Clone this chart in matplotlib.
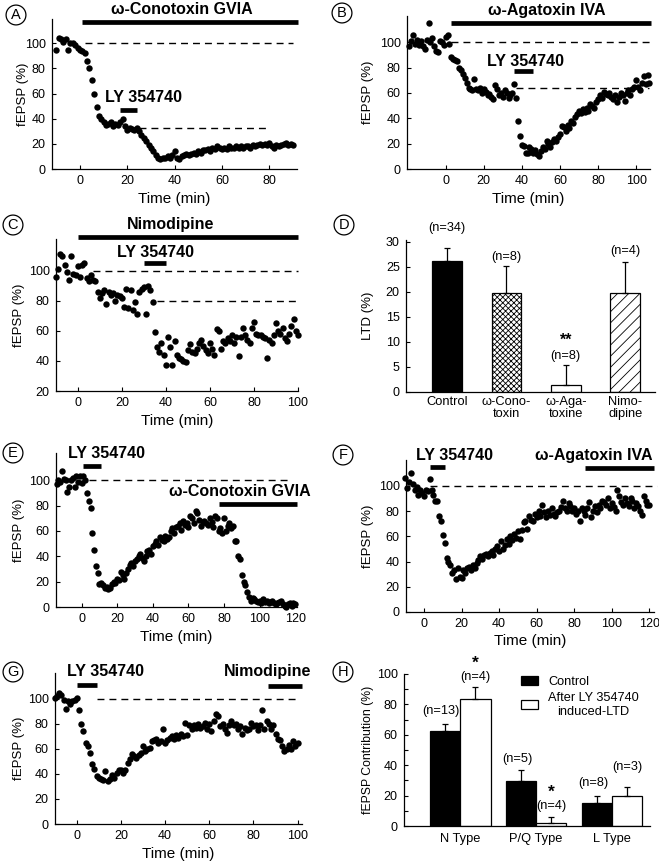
import numpy as np
import matplotlib.pyplot as plt
from matplotlib.patches import Patch

plt.rcParams['font.family'] = ['Liberation Sans', 'DejaVu Sans']
plt.rcParams['hatch.linewidth'] = 0.6

# ---- panel A: omega-Conotoxin GVIA, then LY 354740 ----
a_t = [-10, -9, -8, -7, -6, -5, -4, -3, -2, -1,
       0, 1, 2, 3, 4, 5, 6, 7, 8, 9,
       10, 11, 12, 13, 14, 15, 16, 17, 18, 19,
       20, 21, 22, 23, 24, 25, 26, 27, 28, 29,
       30, 31, 32, 33, 34, 35, 36, 37, 38, 39,
       40, 41, 42, 43, 44, 45, 46, 47, 48, 49,
       50, 51, 52, 53, 54, 55, 56, 57, 58, 59,
       60, 61, 62, 63, 64, 65, 66, 67, 68, 69,
       70, 71, 72, 73, 74, 75, 76, 77, 78, 79,
       80, 81, 82, 83, 84, 85, 86, 87, 88, 89, 90]
a_y = [95, 104, 103, 101, 103, 95, 100, 100, 99, 96,
       95, 94, 92, 86, 80, 71, 60, 49, 42, 40,
       37, 35, 36, 37, 34, 36, 35, 37, 40, 34,
       31, 33, 32, 31, 33, 30, 27, 25, 22, 19,
       17, 14, 11, 9, 8, 9, 9, 10, 9, 11,
       14, 9, 8, 10, 11, 12, 11, 12, 13, 12,
       14, 13, 15, 15, 16, 14, 17, 16, 18, 17,
       16, 17, 16, 18, 17, 17, 18, 17, 18, 17,
       18, 18, 17, 19, 18, 19, 20, 19, 20, 19,
       21, 18, 17, 19, 18, 19, 20, 21, 19, 20, 19]

# ---- panel B: omega-Agatoxin IVA, then LY 354740 ----
b_t = [-19, -18, -17, -16, -15, -14, -13, -12, -11, -10,
       -9, -8, -7, -6, -5, -4, -3, -2, -1, 0,
       1, 2, 3, 4, 5, 6, 7, 8, 9, 10,
       11, 12, 13, 14, 15, 16, 17, 18, 19, 20,
       21, 22, 23, 24, 25, 26, 27, 28, 29, 30,
       31, 32, 33, 34, 35, 36, 37, 38, 39, 40,
       41, 42, 43, 44, 45, 46, 47, 48, 49, 50,
       51, 52, 53, 54, 55, 56, 57, 58, 59, 60,
       61, 62, 63, 64, 65, 66, 67, 68, 69, 70,
       71, 72, 73, 74, 75, 76, 77, 78, 79, 80,
       81, 82, 83, 84, 85, 86, 87, 88, 89, 90,
       91, 92, 93, 94, 95, 96, 97, 98, 99, 100,
       101, 102, 103, 104, 105, 106, 107]
b_y = [97, 101, 106, 99, 102, 98, 101, 97, 95, 102,
       115, 100, 103, 97, 93, 92, 101, 100, 98, 104,
       106, 99, 88, 87, 86, 85, 80, 78, 75, 72,
       68, 64, 63, 62, 71, 63, 62, 64, 60, 63,
       61, 58, 59, 57, 55, 66, 63, 58, 60, 57,
       62, 60, 56, 58, 60, 67, 56, 38, 26, 19,
       18, 13, 13, 17, 16, 13, 15, 12, 10, 14,
       17, 16, 22, 20, 17, 21, 24, 22, 25, 28,
       34, 33, 30, 35, 32, 38, 36, 41, 43, 46,
       44, 47, 45, 48, 46, 51, 50, 48, 53, 55,
       58, 56, 61, 59, 58, 60, 57, 55, 58, 53,
       57, 60, 58, 54, 60, 62, 58, 63, 65, 70,
       65, 62, 68, 73, 67, 74, 68]

# ---- panel C: Nimodipine, then LY 354740 ----
c_t = [-10, -9, -8, -7, -6, -5, -4, -3, -2, -1,
       0, 1, 2, 3, 4, 5, 6, 7, 8, 9,
       10, 11, 12, 13, 14, 15, 16, 17, 18, 19,
       20, 21, 22, 23, 24, 25, 26, 27, 28, 29,
       30, 31, 32, 33, 34, 35, 36, 37, 38, 39,
       40, 41, 42, 43, 44, 45, 46, 47, 48, 49,
       50, 51, 52, 53, 54, 55, 56, 57, 58, 59,
       60, 61, 62, 63, 64, 65, 66, 67, 68, 69,
       70, 71, 72, 73, 74, 75, 76, 77, 78, 79,
       80, 81, 82, 83, 84, 85, 86, 87, 88, 89,
       90, 91, 92, 93, 94, 95, 96, 97, 98, 99, 100]
c_y = [96, 101, 111, 110, 104, 99, 94, 110, 98, 97,
       103, 96, 104, 105, 95, 93, 97, 94, 93, 86,
       82, 85, 87, 78, 86, 84, 85, 80, 84, 83,
       82, 76, 88, 75, 87, 74, 79, 71, 86, 88,
       89, 71, 90, 87, 79, 59, 49, 46, 52, 44,
       37, 56, 49, 37, 53, 44, 42, 41, 40, 39,
       47, 51, 46, 45, 48, 52, 54, 50, 47, 45,
       52, 48, 44, 61, 60, 48, 53, 52, 55, 53,
       57, 52, 56, 43, 56, 62, 57, 54, 52, 62,
       66, 58, 57, 57, 56, 55, 42, 54, 52, 57,
       65, 60, 58, 62, 55, 53, 58, 63, 68, 60, 57]

# ---- panel D: LTD summary ----
d_labels = ['Control', 'ω-Cono-\ntoxin', 'ω-Aga-\ntoxine', 'Nimo-\ndipine']
d_ltd = [26.2, 19.7, 1.4, 19.8]
d_err = [2.5, 5.5, 4.0, 6.2]
d_n = ['(n=34)', '(n=8)', '(n=8)', '(n=4)']
d_sig = ['', '', '**', '']

# ---- panel E: LY 354740, then omega-Conotoxin GVIA ----
e_t = [-14, -13, -12, -11, -10, -9, -8, -7, -6, -5,
       -4, -3, -2, -1, 0, 1, 2, 3, 4, 5,
       6, 7, 8, 9, 10, 11, 12, 13, 14, 15,
       16, 17, 18, 19, 20, 21, 22, 23, 24, 25,
       26, 27, 28, 29, 30, 31, 32, 33, 34, 35,
       36, 37, 38, 39, 40, 41, 42, 43, 44, 45,
       46, 47, 48, 49, 50, 51, 52, 53, 54, 55,
       56, 57, 58, 59, 60, 61, 62, 63, 64, 65,
       66, 67, 68, 69, 70, 71, 72, 73, 74, 75,
       76, 77, 78, 79, 80, 81, 82, 83, 84, 85,
       86, 87, 88, 89, 90, 91, 92, 93, 94, 95,
       96, 97, 98, 99, 100, 101, 102, 103, 104, 105,
       106, 107, 108, 109, 110, 111, 112, 113, 114, 115,
       116, 117, 118, 119, 120]
e_y = [97, 100, 99, 107, 101, 100, 91, 95, 100, 102,
       95, 103, 99, 103, 98, 103, 100, 90, 84, 78,
       58, 45, 32, 27, 18, 19, 17, 15, 16, 14,
       15, 18, 20, 19, 22, 21, 28, 25, 22, 27,
       30, 33, 35, 32, 36, 38, 40, 42, 39, 36,
       40, 44, 45, 42, 48, 50, 52, 49, 55, 53,
       52, 56, 54, 55, 60, 62, 58, 63, 64, 66,
       61, 68, 65, 66, 63, 72, 70, 66, 76, 74,
       69, 64, 67, 68, 66, 65, 70, 67, 63, 72,
       70, 60, 62, 58, 70, 60, 64, 66, 62, 64,
       52, 52, 40, 38, 25, 20, 17, 12, 8, 5,
       7, 6, 5, 4, 5, 3, 6, 4, 5, 3,
       4, 5, 3, 2, 3, 4, 5, 2, 1, 0,
       2, 3, 1, 3, 2]

# ---- panel F: LY 354740, then omega-Agatoxin IVA ----
f_t = [-10, -9, -8, -7, -6, -5, -4, -3, -2, -1,
       0, 1, 2, 3, 4, 5, 6, 7, 8, 9,
       10, 11, 12, 13, 14, 15, 16, 17, 18, 19,
       20, 21, 22, 23, 24, 25, 26, 27, 28, 29,
       30, 31, 32, 33, 34, 35, 36, 37, 38, 39,
       40, 41, 42, 43, 44, 45, 46, 47, 48, 49,
       50, 51, 52, 53, 54, 55, 56, 57, 58, 59,
       60, 61, 62, 63, 64, 65, 66, 67, 68, 69,
       70, 71, 72, 73, 74, 75, 76, 77, 78, 79,
       80, 81, 82, 83, 84, 85, 86, 87, 88, 89,
       90, 91, 92, 93, 94, 95, 96, 97, 98, 99,
       100, 101, 102, 103, 104, 105, 106, 107, 108, 109,
       110, 111, 112, 113, 114, 115, 116, 117, 118, 119, 120]
f_y = [106, 98, 103, 110, 101, 97, 99, 93, 97, 94,
       92, 97, 96, 105, 97, 93, 88, 88, 76, 72,
       61, 55, 43, 40, 37, 31, 33, 26, 35, 28,
       27, 33, 31, 35, 36, 33, 37, 35, 39, 41,
       44, 42, 45, 46, 44, 47, 48, 45, 50, 52,
       48, 56, 50, 53, 58, 54, 60, 57, 62, 59,
       64, 58, 65, 71, 72, 66, 76, 73, 72, 78,
       75, 80, 76, 85, 79, 75, 80, 77, 82, 78,
       76, 79, 80, 83, 88, 82, 80, 86, 84, 80,
       82, 78, 80, 72, 82, 80, 77, 82, 87, 75,
       80, 84, 79, 85, 82, 88, 87, 85, 90, 82,
       86, 83, 80, 97, 92, 87, 85, 90, 86, 84,
       90, 88, 82, 86, 84, 80, 77, 92, 88, 85, 85]

# ---- panel G: LY 354740, then Nimodipine ----
g_t = [-10, -9, -8, -7, -6, -5, -4, -3, -2, -1,
       0, 1, 2, 3, 4, 5, 6, 7, 8, 9,
       10, 11, 12, 13, 14, 15, 16, 17, 18, 19,
       20, 21, 22, 23, 24, 25, 26, 27, 28, 29,
       30, 31, 32, 33, 34, 35, 36, 37, 38, 39,
       40, 41, 42, 43, 44, 45, 46, 47, 48, 49,
       50, 51, 52, 53, 54, 55, 56, 57, 58, 59,
       60, 61, 62, 63, 64, 65, 66, 67, 68, 69,
       70, 71, 72, 73, 74, 75, 76, 77, 78, 79,
       80, 81, 82, 83, 84, 85, 86, 87, 88, 89,
       90, 91, 92, 93, 94, 95, 96, 97, 98, 99, 100]
g_y = [101, 102, 105, 103, 99, 92, 98, 96, 98, 99,
       101, 91, 80, 74, 65, 62, 57, 48, 44, 38,
       37, 36, 35, 42, 34, 36, 39, 37, 41, 43,
       43, 41, 43, 49, 52, 56, 54, 53, 55, 57,
       62, 58, 60, 61, 66, 67, 68, 65, 66, 76,
       65, 67, 69, 70, 68, 71, 69, 72, 70, 81,
       71, 79, 76, 79, 77, 80, 77, 78, 81, 76,
       80, 74, 82, 88, 86, 78, 80, 76, 73, 79,
       82, 79, 80, 76, 78, 72, 77, 75, 76, 81,
       78, 79, 75, 79, 91, 76, 82, 80, 76, 79,
       72, 68, 67, 62, 58, 60, 63, 60, 66, 62, 65]

# ---- panel H: channel contributions ----
h_groups = ['N Type', 'P/Q Type', 'L Type']
h_ctrl = [62.6, 29.3, 15.2]
h_ctrl_err = [4.4, 7.4, 4.6]
h_ltd = [83.5, 2.0, 19.8]
h_ltd_err = [8.1, 4.0, 5.9]
h_n_ctrl = ['(n=13)', '(n=5)', '(n=8)']
h_n_ltd = ['(n=4)', '(n=4)', '(n=3)']
h_sig_ltd = ['*', '*', '']

# drug application periods: (label, start, end) in min
a_drugs = [('ω-Conotoxin GVIA', 1, 92), ('LY 354740', 17, 24)]
b_drugs = [('ω-Agatoxin IVA', 3, 108), ('LY 354740', 36, 46)]
c_drugs = [('Nimodipine', 0, 100), ('LY 354740', 30, 40)]
e_drugs = [('LY 354740', 1, 11), ('ω-Conotoxin GVIA', 77, 121)]
f_drugs = [('LY 354740', 3, 11), ('ω-Agatoxin IVA', 86, 122.5)]
g_drugs = [('LY 354740', 0, 9), ('Nimodipine', 86.5, 102)]

# dashed reference levels: (start, end, level)
a_refs = [(2, 90, 100), (25, 80, 33)]
b_refs = [(3, 108, 100), (37, 107, 64)]
c_refs = [(7, 100, 100), (36, 100, 80)]
e_refs = [(4, 116, 100)]
f_refs = [(3, 124, 100)]
g_refs = [(9, 100, 100)]

W, H = 659, 863
fig = plt.figure(figsize=(W / 100, H / 100), dpi=100)

TICK = 9
YLAB = 9.5
XLAB = 11
NLAB = 9.2
CAT = 9.3


def px_axes(left, top, right, bottom):
    return fig.add_axes([left / W, 1 - bottom / H, (right - left) / W, (bottom - top) / H])


def style(ax, ylab_x, box):
    for s in ['top', 'right']:
        ax.spines[s].set_visible(False)
    for s in ['left', 'bottom']:
        ax.spines[s].set_linewidth(0.9)
    ax.tick_params(direction='in', length=3, width=0.8, labelsize=TICK, pad=4.5)
    # label anchor is its right edge, so shift by half the text height
    ax.yaxis.set_label_coords((ylab_x + 6 - box[0]) / (box[2] - box[0]), 0.5)


def circle_label(letter, x, y):
    fig.text(x / W, 1 - y / H, letter, ha='center', va='center', fontsize=10.5,
             bbox=dict(boxstyle='circle,pad=0.2', fc='white', ec='black', lw=0.9))


def time_panel(box, t, y, xlim, ylim, xticks, yticks, drugs, drug_pos, refs, ylab_x):
    ax = px_axes(*box)
    ax.plot(t, y, 'o', color='black', ms=4.6, mew=0, clip_on=False, zorder=3)
    for x0, x1, lev in refs:
        ax.plot([x0, x1], [lev, lev], color='black', lw=1, dashes=(5, 3.6), clip_on=False)
    for (label, x0, x1), (bar_y, tx, ty) in zip(drugs, drug_pos):
        ax.plot([x0, x1], [bar_y, bar_y], color='black', lw=3.4,
                solid_capstyle='butt', clip_on=False)
        ax.text(tx, ty, label, ha='center', va='center', fontsize=11.5,
                fontweight='bold', clip_on=False)
    ax.set_xlim(*xlim)
    ax.set_ylim(*ylim)
    ax.set_xticks(xticks)
    ax.set_yticks(yticks)
    ax.set_ylabel('fEPSP (%)', fontsize=YLAB)
    ax.set_xlabel('Time (min)', fontsize=XLAB)
    ax.xaxis.set_label_coords(0.5, -22.5 / (box[3] - box[1]))
    style(ax, ylab_x, box)
    return ax


# A
box = (52, 19, 297, 169)
time_panel(box, a_t, a_y, (-11.8, 91.7), (0, 119.3), [0, 20, 40, 60, 80],
           [0, 20, 40, 60, 80, 100], a_drugs, [(117, 43, 126.5), (46.6, 27, 56.7)],
           a_refs, 22.5)
circle_label('A', 16, 15)

# B
box = (407, 16, 650, 169)
time_panel(box, b_t, b_y, (-20.3, 107.3), (0, 120.7), [0, 20, 40, 60, 80, 100],
           [0, 20, 40, 60, 80, 100], b_drugs, [(115.4, 53, 125), (77, 41.7, 84.8)],
           b_refs, 368)
circle_label('B', 342, 13)

# C
box = (56, 239, 298, 391)
time_panel(box, c_t, c_y, (-9.9, 100), (20, 121), [0, 20, 40, 60, 80, 100],
           [20, 40, 60, 80, 100], c_drugs, [(122, 42.3, 130.5), (105, 35.2, 112)],
           c_refs, 19)
circle_label('C', 13, 225)

# D
box = (406, 240, 655, 392)
ax = px_axes(*box)
xd = np.arange(len(d_ltd))
ax.bar(xd, d_ltd, width=0.5, color=['black', 'white', 'white', 'white'],
       edgecolor='black', linewidth=0.9, hatch=['', 'xxxxxx', '', '///'], zorder=2)
ax.errorbar(xd, d_ltd, yerr=[np.zeros(len(d_err)), d_err], fmt='none',
            ecolor='black', elinewidth=0.9, capsize=2.5, capthick=0.9, zorder=3)
d_n_y = [32.6, 27.0, 7.1, 28.1]
for xi, lab, ny, sig in zip(xd, d_n, d_n_y, d_sig):
    ax.text(xi, ny, lab, ha='center', va='center', fontsize=NLAB, clip_on=False)
    if sig:
        ax.text(xi, ny + 3.2, sig, ha='center', va='center', fontsize=11.5,
                fontweight='bold')
ax.set_xlim(-0.69, 3.5)
ax.set_ylim(0, 30.3)
ax.set_yticks([0, 5, 10, 15, 20, 25, 30])
ax.set_xticks(xd)
ax.set_xticklabels(d_labels, linespacing=1.0)
ax.set_ylabel('LTD (%)', fontsize=YLAB)
style(ax, 368, box)
ax.tick_params(axis='x', length=0, pad=3, labelsize=CAT)
circle_label('D', 344, 225)

# E
box = (56, 453, 297, 607)
time_panel(box, e_t, e_y, (-14.4, 121), (0, 121.5), [0, 20, 40, 60, 80, 100, 120],
           [0, 20, 40, 60, 80, 100], e_drugs, [(111, 13.7, 121.5), (81, 89, 91)],
           e_refs, 19)
circle_label('E', 13, 453)

# F
box = (406, 460, 654, 612)
time_panel(box, f_t, f_y, (-9.6, 122.5), (0, 120.4), [0, 20, 40, 60, 80, 100, 120],
           [0, 20, 40, 60, 80, 100], f_drugs, [(114.6, 16, 124), (114, 90.2, 124)],
           f_refs, 368)
circle_label('F', 343, 455)

# G
box = (55, 673, 302, 824)
time_panel(box, g_t, g_y, (-9.85, 102), (0, 120.7), [0, 20, 40, 60, 80, 100],
           [0, 20, 40, 60, 80, 100], g_drugs, [(111.5, 13, 122), (110.6, 86.4, 122)],
           g_refs, 19)
circle_label('G', 13, 672)

# H
box = (404, 674, 650, 826)
ax = px_axes(*box)
xh = np.arange(len(h_groups))
bw = 0.4
ax.bar(xh - bw / 2, h_ctrl, width=bw, color='black', edgecolor='black', linewidth=0.9, zorder=2)
ax.bar(xh + bw / 2, h_ltd, width=bw, color='white', edgecolor='black', linewidth=0.9, zorder=2)
ax.errorbar(xh - bw / 2, h_ctrl, yerr=[np.zeros(3), h_ctrl_err], fmt='none',
            ecolor='black', elinewidth=0.9, capsize=2.5, capthick=0.9, zorder=3)
ax.errorbar(xh + bw / 2, h_ltd, yerr=[np.zeros(3), h_ltd_err], fmt='none',
            ecolor='black', elinewidth=0.9, capsize=2.5, capthick=0.9, zorder=3)
h_ctrl_pad = [8.8, 7.1, 8.6]
h_ltd_pad = [6.4, 7.2, 12.8]
for xi, v, e, lab, pad in zip(xh - bw / 2, h_ctrl, h_ctrl_err, h_n_ctrl, h_ctrl_pad):
    ax.text(xi - 0.05, v + e + pad, lab, ha='center', va='center', fontsize=NLAB)
for xi, v, e, lab, pad, sig in zip(xh + bw / 2, h_ltd, h_ltd_err, h_n_ltd, h_ltd_pad, h_sig_ltd):
    ax.text(xi, v + e + pad, lab, ha='center', va='center', fontsize=NLAB, clip_on=False)
    if sig:
        ax.text(xi, v + e + pad + 9, sig, ha='center', va='center', fontsize=12.5,
                fontweight='bold', clip_on=False)
ax.set_xlim(-0.74, 2.5)
ax.set_ylim(0, 100)
ax.set_yticks([0, 20, 40, 60, 80, 100])
ax.set_yticks([10, 30, 50, 70, 90], minor=True)
ax.set_xticks(xh)
ax.set_xticklabels(h_groups)
ax.set_ylabel('fEPSP Contribution (%)', fontsize=8.8)
style(ax, 368, box)
ax.tick_params(axis='y', which='minor', direction='in', length=3, width=0.8)
ax.tick_params(axis='x', length=0, pad=5, labelsize=CAT)
leg = ax.legend(handles=[Patch(fc='black', ec='black', lw=0.9),
                         Patch(fc='white', ec='black', lw=0.9)],
                labels=['Control', 'After LY 354740\ninduced-LTD'],
                loc='upper left', bbox_to_anchor=(0.45, 1.03), frameon=False,
                fontsize=9.2, handlelength=1.3, handleheight=0.75,
                handletextpad=0.8, labelspacing=0.3, borderpad=0)
for txt in leg.get_texts():
    txt.set_multialignment('center')
circle_label('H', 343, 672)

fig.savefig('out.png', dpi=100)
